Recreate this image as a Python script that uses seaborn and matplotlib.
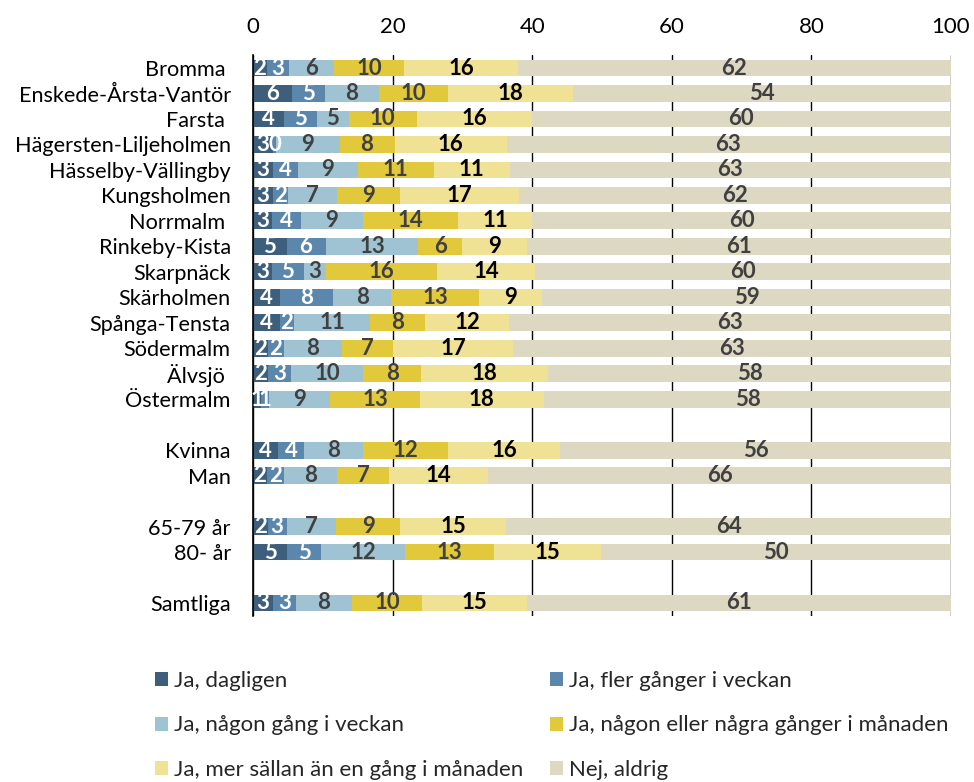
import numpy as np
import pandas as pd
import seaborn as sns
import matplotlib.pyplot as plt
from matplotlib.patches import Patch

sns.set_theme(style="white")
plt.rcParams['font.family'] = ['Lato', 'DejaVu Sans']

categories = ["Bromma ", "Enskede-Årsta-Vantör", "Farsta ", "Hägersten-Liljeholmen",
              "Hässelby-Vällingby", "Kungsholmen", "Norrmalm ", "Rinkeby-Kista",
              "Skarpnäck", "Skärholmen", "Spånga-Tensta", "Södermalm", "Älvsjö ",
              "Östermalm", "Kvinna", "Man", "65-79 år", "80- år", "Samtliga"]

daily    = [2.0, 5.6, 4.4, 2.9, 2.8, 2.8, 2.7, 4.8, 2.7, 3.8, 3.8, 2.2, 2.1, 1.2, 3.6, 2.0, 2.1, 4.9, 2.9]
several  = [3.2, 4.7, 4.7, 0.4, 3.6, 2.2, 4.2, 5.6, 4.6, 7.7, 2.1, 2.2, 3.3, 1.1, 3.7, 2.4, 2.7, 4.9, 3.2]
weekly   = [6.4, 7.7, 4.6, 9.1, 8.6, 7.1, 8.8, 13.3, 3.2, 8.3, 10.9, 8.3, 10.4, 8.8, 8.4, 7.7, 7.1, 12.0, 8.1]
monthly  = [10.1, 10.0, 9.8, 7.9, 10.9, 9.0, 13.7, 6.2, 15.9, 12.6, 7.9, 7.4, 8.3, 12.8, 12.2, 7.4, 9.2, 12.7, 10.0]
rarely   = [16.2, 17.9, 16.4, 16.1, 10.9, 17.0, 10.6, 9.4, 14.0, 9.0, 12.0, 17.2, 18.2, 17.8, 16.1, 14.2, 15.2, 15.4, 15.1]
never    = [62.1, 54.1, 60.1, 63.4, 63.2, 61.9, 60.0, 60.7, 59.6, 58.6, 63.3, 62.7, 57.7, 58.3, 56.0, 66.3, 63.7, 50.1, 60.7]

series_names = ["Ja, dagligen", "Ja, fler gånger i veckan", "Ja, någon gång i veckan",
                "Ja, någon eller några gånger i månaden",
                "Ja, mer sällan än en gång i månaden", "Nej, aldrig"]
series = [daily, several, weekly, monthly, rarely, never]
colors = ["#3E5F7C", "#5B87AD", "#9FC3D2", "#E2C93B", "#EFE294", "#DDD8C2"]
label_colors = ["white", "white", "#404040", "#404040", "black", "#404040"]

order = categories[:14] + [" "] + categories[14:16] + ["  "] + categories[16:18] + ["   "] + categories[18:]

df = pd.DataFrame({"group": categories})
vals = np.array(series)
cums = np.cumsum(vals, axis=0)
for i, name in enumerate(series_names):
    df[f"cum{i}"] = cums[i]

fig = plt.figure(figsize=(9.74, 7.82), dpi=100)
ax = fig.add_axes([253/974, 1 - 615.7/782, (951-253)/974, (615.7-55.3)/782])

for i in reversed(range(len(series))):
    sns.barplot(data=df, x=f"cum{i}", y="group", order=order, orient="h",
                color=colors[i], saturation=1, width=0.66, errorbar=None,
                linewidth=0, edgecolor="none", ax=ax)

pos = {c: order.index(c) for c in categories}
for i in range(len(series)):
    for j, c in enumerate(categories):
        v = vals[i][j]
        xc = cums[i][j] - v / 2
        ax.text(xc, pos[c], f"{round(v):d}", ha="center", va="center",
                fontsize=16, fontweight="bold", color=label_colors[i])

ax.set_xlim(0, 100)
ax.set_xticks(range(0, 101, 20))
ax.xaxis.tick_top()
ax.set_axisbelow(True)
ax.xaxis.grid(True, color="black", linewidth=1)
ax.yaxis.grid(False)
ax.tick_params(axis="x", length=0, pad=13, labelsize=16, labelcolor="black")
ax.tick_params(axis="y", length=0, pad=16, labelsize=15.6, labelcolor="black")
ax.set_xlabel("")
ax.set_ylabel("")
for s in ["top", "bottom", "right"]:
    ax.spines[s].set_visible(False)
ax.spines["left"].set_color("black")
ax.spines["left"].set_linewidth(1.2)

handles = [Patch(facecolor=c, edgecolor="none") for c in colors]
idx = [0, 2, 4, 1, 3, 5]
fig.legend([handles[k] for k in idx], [series_names[k] for k in idx],
           loc="upper left", bbox_to_anchor=(155/974, 1 - 671/782), ncol=2,
           frameon=False, fontsize=16, handlelength=0.6, handleheight=0.6,
           handletextpad=0.25, columnspacing=1.2, labelspacing=1.1,
           borderpad=0, borderaxespad=0)

fig.savefig("out.png", dpi=100)
